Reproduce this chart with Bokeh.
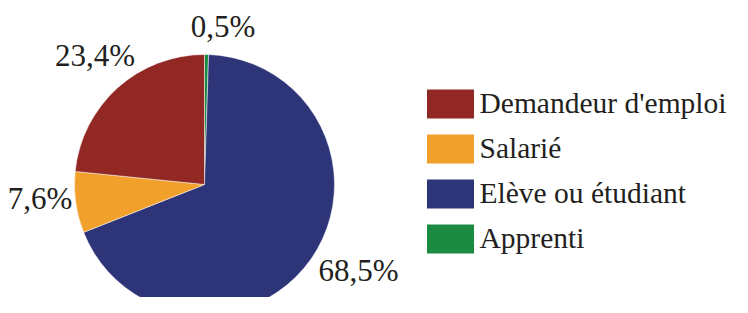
import math
import numpy as np
from bokeh.plotting import figure
from bokeh.models import Range1d, ColumnDataSource
from bokeh.core.properties import value
from bokeh.embed import file_html
from bokeh.resources import INLINE

# ---- data (clockwise from 12 o'clock) ----
categories = ["Apprenti", "Elève ou étudiant", "Salarié", "Demandeur d'emploi"]
shares = [0.5, 68.5, 7.6, 23.4]
labels = ["0,5%", "68,5%", "7,6%", "23,4%"]
colors = ["#1B8B41", "#2E3478", "#F1A02B", "#912823"]
legend_order = ["Demandeur d'emploi", "Salarié", "Elève ou étudiant", "Apprenti"]

W, H = 732, 297
FONT = "Liberation Serif"
TXT = "#231F20"

p = figure(width=W, height=H, output_backend="svg", toolbar_location=None,
           x_range=Range1d(0, W), y_range=Range1d(0, H), min_border=0)
p.axis.visible = False
p.grid.visible = False
p.outline_line_color = None
p.background_fill_color = "white"

cx, cy, r = 204, H - 184, 130

vals = np.array(shares, dtype=float)
frac = vals / vals.sum()
ends_cum = np.cumsum(frac)
starts_cum = ends_cum - frac
start_ang = math.pi / 2 - 2 * math.pi * starts_cum
end_ang = math.pi / 2 - 2 * math.pi * ends_cum

src = ColumnDataSource(dict(start=start_ang, end=end_ang, color=colors, cat=categories))
p.wedge(x=cx, y=cy, radius=r, start_angle="start", end_angle="end", direction="clock",
        fill_color="color", line_color="white", line_width=0.5, source=src)

# data labels
mid = (start_ang + end_ang) / 2
lab_dist = [160, 176, 164, 172]
lab_dx = [16, 10, -2, 6]
lab_dy = [-2, 15, 9, 1]
lx = [cx + d * math.cos(a) + ox for d, a, ox in zip(lab_dist, mid, lab_dx)]
ly = [cy + d * math.sin(a) + oy for d, a, oy in zip(lab_dist, mid, lab_dy)]
p.text(x=lx, y=ly, text=labels, text_font=value(FONT), text_font_size="31px",
       text_color=TXT, text_align="center", text_baseline="middle")

# legend
idx = np.arange(len(legend_order))
leg_colors = [colors[categories.index(c)] for c in legend_order]
ly0 = H - 103.5
step = 45
sy = ly0 - idx * step
p.rect(x=450, y=sy, width=47, height=29, fill_color=leg_colors, line_color=None)
p.text(x=479, y=sy + 1, text=legend_order, text_font=value(FONT), text_font_size="29.5px",
       text_color=TXT, text_align="left", text_baseline="middle")

open("out.html", "w").write(file_html(p, INLINE))
